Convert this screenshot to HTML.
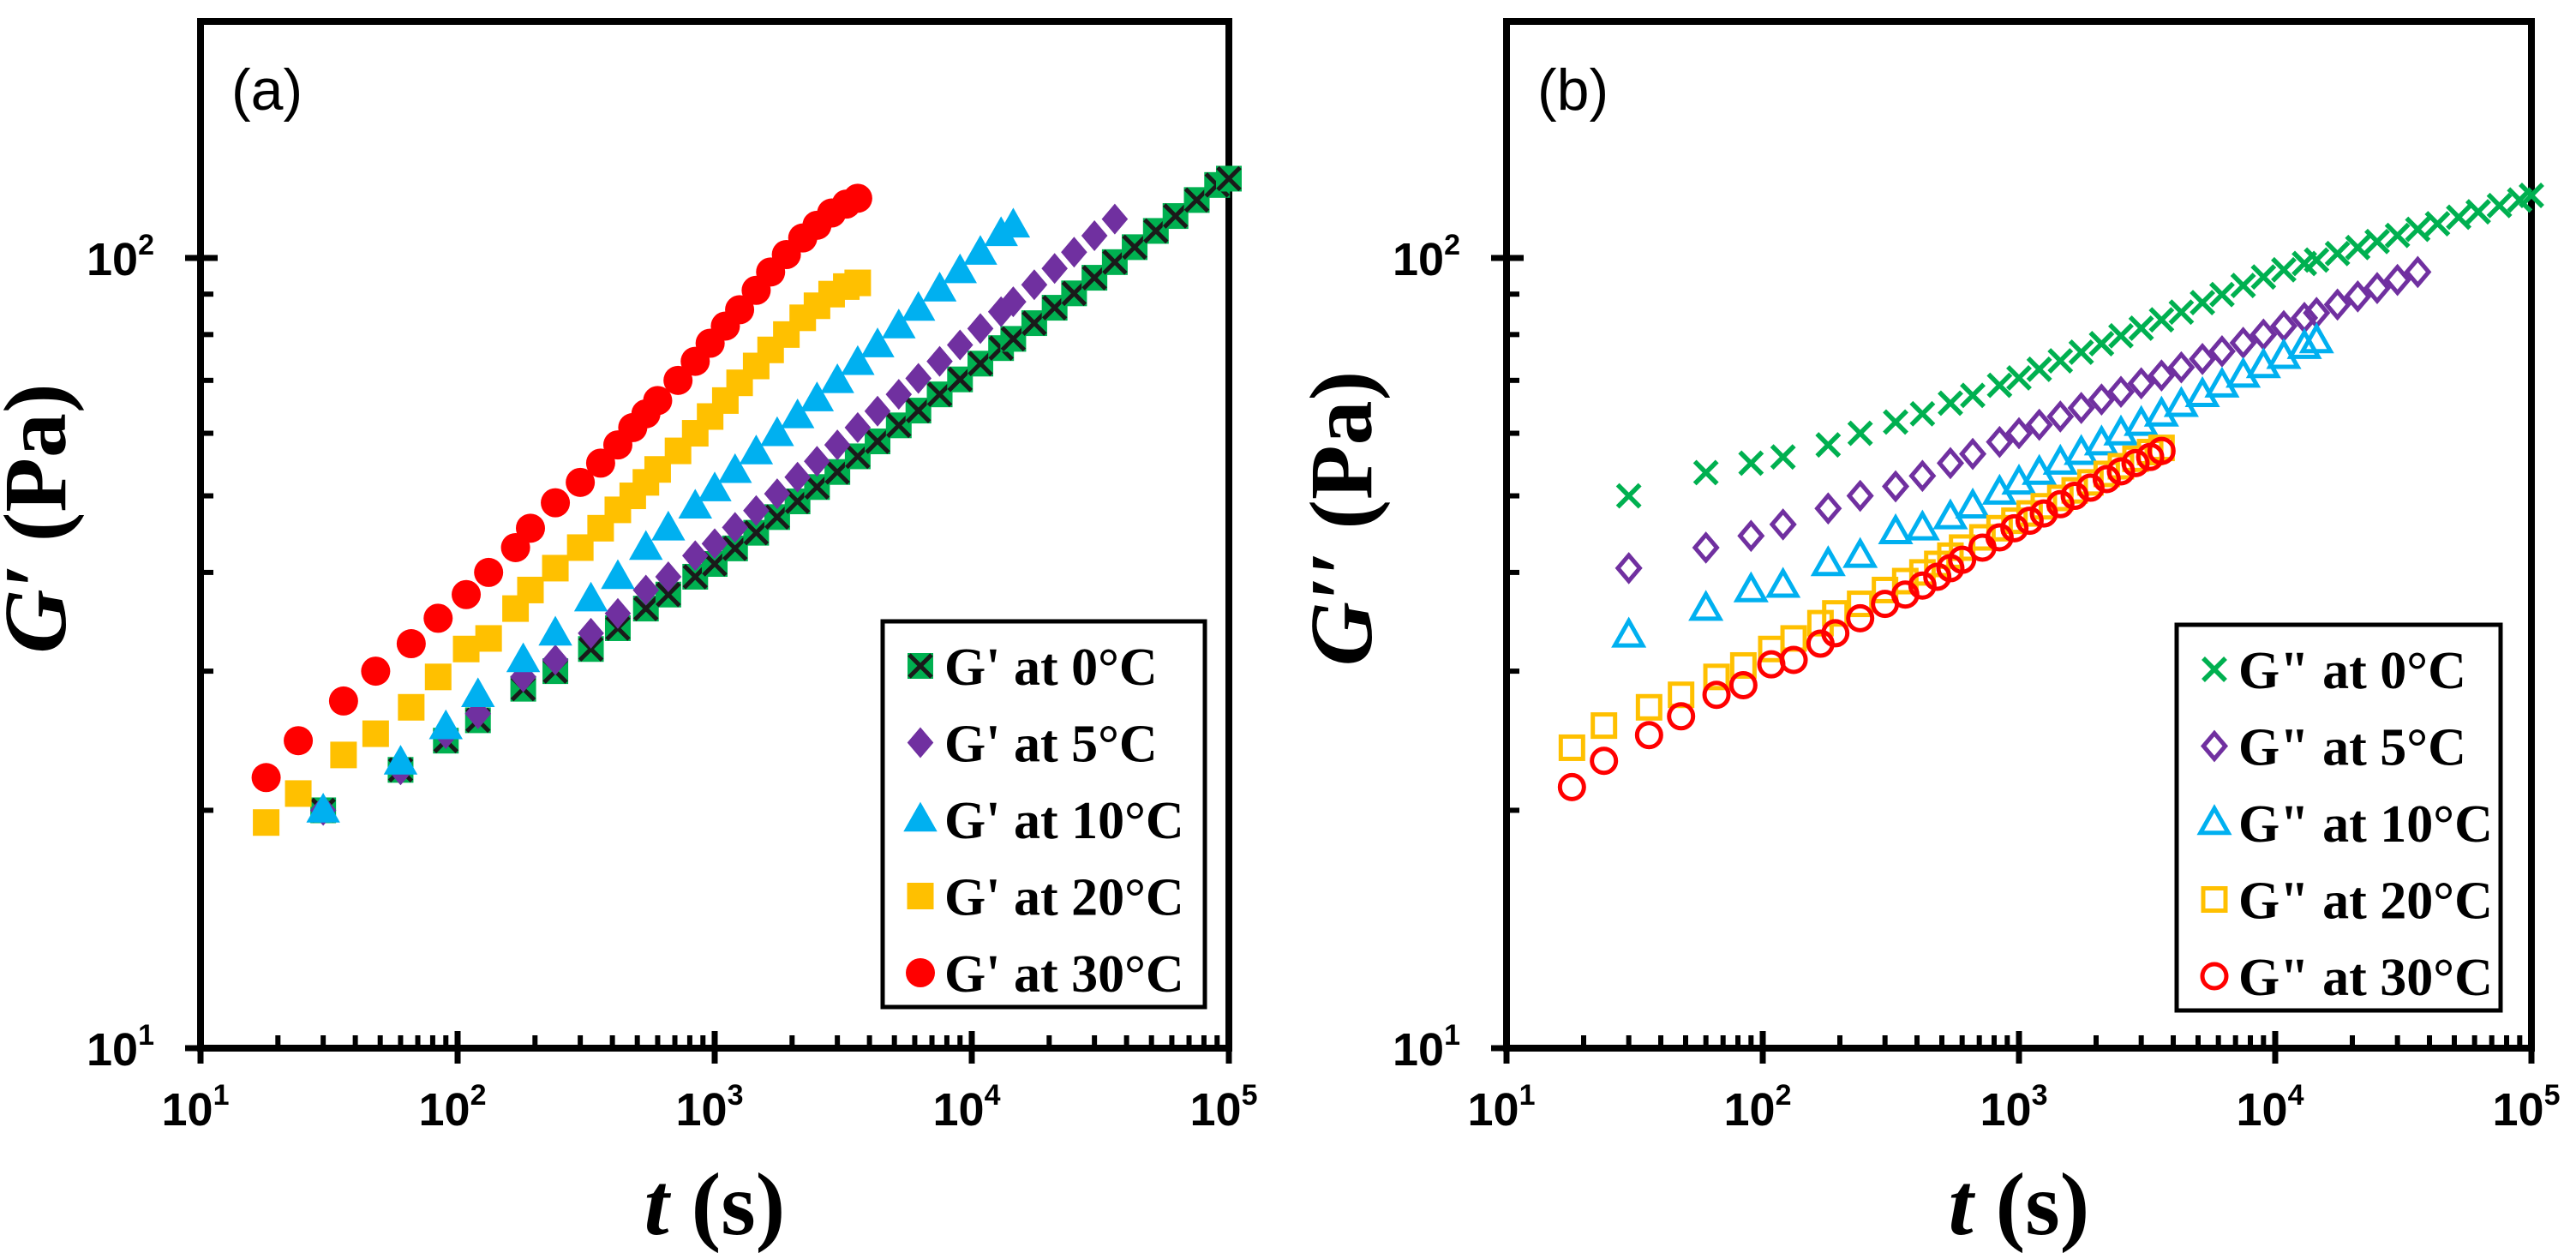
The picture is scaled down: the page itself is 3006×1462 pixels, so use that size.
<!DOCTYPE html>
<html><head><meta charset="utf-8"><style>
html,body{margin:0;padding:0;background:#fff;}
svg{display:block;}
</style></head><body>
<svg id="fig" width="3006" height="1462" viewBox="0 0 3006 1462" xmlns="http://www.w3.org/2000/svg">
<g id="pa"></g>
<g id="pb"></g>
</svg>
<script>
// ---- shared data ----
const tA = [18,24,36,48,66,84,108,132,168,192,240,300,360,420,480,540,600,720,840,960,1100,1250,1450,1650,1900,2200,2500,2850,3250,3600];
const tC = [30,60,90,120,180,240,330,420,540,660,840,1000,1200,1450,1750,2100,2500,3000,3600,4300,5200,6200,7500,9000,10800,13000,14500,17500,21000,25000,30000,36000,43000,52000,62000,75000,90000,100000];
// Panel a: G'
const gp0 = [20,22.5,24.5,26,28.5,30,32,34,36,37.5,39.5,41,42.9,44.9,47,49.2,51.3,53.6,56.1,58.6,61.4,64.1,67.2,70.2,73.5,76.9,79,82.7,86.5,90.2,94.4,98.8,103.2,108.2,113,118.4,123.7,126];
const gp5 = [20,22.5,25,26.5,29.5,31,33.5,35.5,38,39.5,42,43.5,45.6,47.9,50.3,52.8,55.3,58,61,64,67.2,70.4,74,77.6,81.4,85.5,88,92.5,97,101.7,106.7,112];
const gp10 = [20,23,25.5,28,31,33.5,37,39.5,43,45.5,48.5,51,53.8,56.8,59.9,63.1,66.3,69.9,73.7,77.6,82,86.3,91.3,96.3,101.6,107.3,110];
const gp20 = [19.3,21,23.5,25,27,29.5,32,33,36,38,40.5,43,45.5,48,50,52,54,57,60,63,66,69.5,73,76.5,80,84,87,90,92,93];
const gp30 = [22,24.5,27.5,30,32.5,35,37.5,40,43,45.5,49,52,55,58,61,63.5,66,70,74,78,82,86,91,96,101,106,110,114,117,119];
// Panel b: G''
const gpp0 = [50,53.5,55,56,58,60,62,63.5,65.5,67,69,70.5,72.3,74.1,76,77.9,79.7,81.5,83.5,85.4,87.8,89.9,92.3,94.6,96.6,98.4,99.4,101.3,103.1,104.9,106.8,108.7,110.5,112.6,114.4,116.5,118.4,120];
const gpp5 = [40.5,43,44.5,46,48.2,50,51.4,53,55,56.5,58.5,60,61.5,63,64.6,66.2,67.7,69.4,71,72.7,74.5,76.2,78.1,80,82,84,85.2,87.3,89.4,91.6,93.8,96];
const gpp10 = [33.3,36,38,38.5,41,42,45,45.5,47,48.5,50.5,52,53.5,55.1,56.7,58.3,60,61.7,63.4,65.2,67.1,69,71,73,75,77.2,78.5];
const gpp20 = [24,25.6,27,28,29.5,30.5,32,33,34.5,35.5,36.5,38,39,40,41,42,43,44.3,45.5,46.5,47.5,48.5,49.7,50.8,52,53.3,54.5,55.7,56.8,57.5];
const gpp30 = [21.4,23.1,24.9,26.3,28,28.8,30.6,31,32.5,33.5,35,36.5,37.5,38.5,39.5,40.5,41.5,43,44.3,45.5,46.5,47.5,48.8,50,51.2,52.5,53.7,55,56,57];
const xDecades = [1,2,3,4,5];
const legendA = ["G' at 0°C","G' at 5°C","G' at 10°C","G' at 20°C","G' at 30°C"];
const legendB = ['G" at 0°C','G" at 5°C','G" at 10°C','G" at 20°C','G" at 30°C'];

const NS = "http://www.w3.org/2000/svg";
const COL = {g:"#00B050",p:"#7030A0",c:"#00B0F0",y:"#FFC000",r:"#FF0000"};
function mk(tag, attrs, parent){const e=document.createElementNS(NS,tag);for(const k in attrs)e.setAttribute(k,attrs[k]);parent.appendChild(e);return e;}

function marker(g, kind, color, x, y, open){
  let e;
  const sw = 5;
  if(kind==="circle"){ e=mk("circle",{cx:x,cy:y,r:open?14:17,fill:open?"none":color,stroke:color,"stroke-width":open?sw:0},g); }
  else if(kind==="square"){ const s=open?26:31; e=mk("rect",{x:x-s/2,y:y-s/2,width:s,height:s,fill:open?"none":color,stroke:color,"stroke-width":open?sw:0},g); }
  else if(kind==="tri"){ const h=open?28:34; e=mk("polygon",{points:`${x},${y-h*0.6} ${x-h*0.58},${y+h*0.42} ${x+h*0.58},${y+h*0.42}`,fill:open?"none":color,stroke:color,"stroke-width":open?sw:0,"stroke-linejoin":"miter"},g); }
  else if(kind==="diamond"){ const r=open?15:18; e=mk("polygon",{points:`${x},${y-r} ${x+r*0.85},${y} ${x},${y+r} ${x-r*0.85},${y}`,fill:open?"none":color,stroke:color,"stroke-width":open?sw:0},g); }
  else if(kind==="x"){ e=mk("path",{d:`M${x-13},${y-13}L${x+13},${y+13}M${x-13},${y+13}L${x+13},${y-13}`,stroke:color,"stroke-width":5.5,fill:"none"},g); }
  else if(kind==="sqx"){ e=mk("g",{},g);
    mk("rect",{x:x-15,y:y-15,width:30,height:30,fill:COL.g},e);
    mk("path",{d:`M${x-13},${y-13}L${x+13},${y+13}M${x-13},${y+13}L${x+13},${y-13}`,stroke:"#1a1a1a","stroke-width":5,fill:"none"},e); }
  return e;
}

function panel(root, L, R, T, B, opts){
  const xs = v => L + (Math.log10(v)-1)/4*(R-L);
  const y10 = 1223, y100 = 301;
  const ys = v => y10 - (Math.log10(v)-1)*(y10-y100);
  const frame = mk("rect",{x:L,y:T,width:R-L,height:B-T,fill:"none",stroke:"#000","stroke-width":8},root);
  
  
  const xt = mk("g",{},root);
  
  
  xDecades.forEach((d,i)=>{
    const X = xs(Math.pow(10,d));
    mk("line",{x1:X,x2:X,y1:B+18,y2:B-20,stroke:"#000","stroke-width":7},xt);
    const lab = mk("text",{x:X-6,y:B+90,"font-family":"Liberation Sans, sans-serif","font-weight":"bold","font-size":54,"text-anchor":"middle"},xt);
    lab.textContent="10";
    const sup = mk("tspan",{"font-size":34,dy:-24},lab); sup.textContent=String(d);
    
    
    if(i<xDecades.length-1){
      for(let m=2;m<=9;m++){ const xm=xs(m*Math.pow(10,d)); mk("line",{x1:xm,x2:xm,y1:B,y2:B-15,stroke:"#000","stroke-width":6},xt); }
    }
  });
  const yt = mk("g",{},root);
  
  
  [10,100].forEach((v,i)=>{
    const Y=ys(v);
    mk("line",{x1:L-18,x2:L+20,y1:Y,y2:Y,stroke:"#000","stroke-width":7},yt);
    const lab = mk("text",{x:L-54,y:Y+20,"font-family":"Liberation Sans, sans-serif","font-weight":"bold","font-size":54,"text-anchor":"end"},yt);
    lab.textContent="10";
    const sup = mk("tspan",{"font-size":34,dy:-24},lab); sup.textContent=String(i+1);
    
    
  });
  for(let m=2;m<=9;m++){ const Y=ys(m*10); mk("line",{x1:L,x2:L+15,y1:Y,y2:Y,stroke:"#000","stroke-width":6},yt); }
  const xtit = mk("text",{x:(L+R)/2,y:1440,"font-family":"Liberation Serif, serif","font-weight":"bold","font-size":104,"text-anchor":"middle"},root);
  xtit.innerHTML = '<tspan font-style="italic">t</tspan> (s)';
  
  
  const ytit = mk("text",{x:0,y:0,"font-family":"Liberation Serif, serif","font-weight":"bold","font-size":104,"text-anchor":"middle",transform:`translate(${L-158},605) rotate(-90)`},root);
  ytit.innerHTML = opts.ytitle;
  
  
  const pl = mk("text",{x:L+36,y:128,"font-family":"Liberation Sans, sans-serif","font-size":68},root);
  pl.textContent = opts.label;
  
  
  opts.series.forEach(s=>{
    const g = mk("g",{},root);
    
    
    s.vals.forEach((v,i)=>{
      const m = marker(g, s.kind, s.color, xs(s.t[i]), ys(v), s.open);
      
      
    });
  });
  const lg = mk("g",{},root);
  
  
  const lb = opts.legendBox;
  mk("rect",{x:lb[0],y:lb[1],width:lb[2],height:lb[3],fill:"#fff",stroke:"#000","stroke-width":5},lg);
  opts.series.forEach((s,i)=>{
    const Y = lb[1]+52+i*89.5;
    const e = mk("g",{},lg);
    
    
    marker(e, s.kind, s.color, lb[0]+44, Y, s.open);
    const tx = mk("text",{x:lb[0]+72,y:Y+22,"font-family":"Liberation Serif, serif","font-weight":"bold","font-size":62},e);
    tx.textContent = opts.legend[i];
  });
}

panel(document.getElementById("pa"), 234, 1434, 25, 1223, {
  label:"(a)", ytitle:'<tspan font-style="italic">G′</tspan> (Pa)', legend:legendA,
  legendBox:[1030,725,376,450],
  series:[
    {name:"series-gp-0C",kind:"sqx",color:COL.g,t:tC,vals:gp0},
    {name:"series-gp-5C",kind:"diamond",color:COL.p,t:tC,vals:gp5},
    {name:"series-gp-10C",kind:"tri",color:COL.c,t:tC,vals:gp10},
    {name:"series-gp-20C",kind:"square",color:COL.y,t:tA,vals:gp20},
    {name:"series-gp-30C",kind:"circle",color:COL.r,t:tA,vals:gp30}
  ]});
panel(document.getElementById("pb"), 1758, 2954, 25, 1223, {
  label:"(b)", ytitle:'<tspan font-style="italic">G′′</tspan> (Pa)', legend:legendB,
  legendBox:[2540,729,378,450],
  series:[
    {name:"series-gpp-0C",kind:"x",color:COL.g,t:tC,vals:gpp0,open:true},
    {name:"series-gpp-5C",kind:"diamond",color:COL.p,t:tC,vals:gpp5,open:true},
    {name:"series-gpp-10C",kind:"tri",color:COL.c,t:tC,vals:gpp10,open:true},
    {name:"series-gpp-20C",kind:"square",color:COL.y,t:tA,vals:gpp20,open:true},
    {name:"series-gpp-30C",kind:"circle",color:COL.r,t:tA,vals:gpp30,open:true}
  ]});
</script>
</body></html>
